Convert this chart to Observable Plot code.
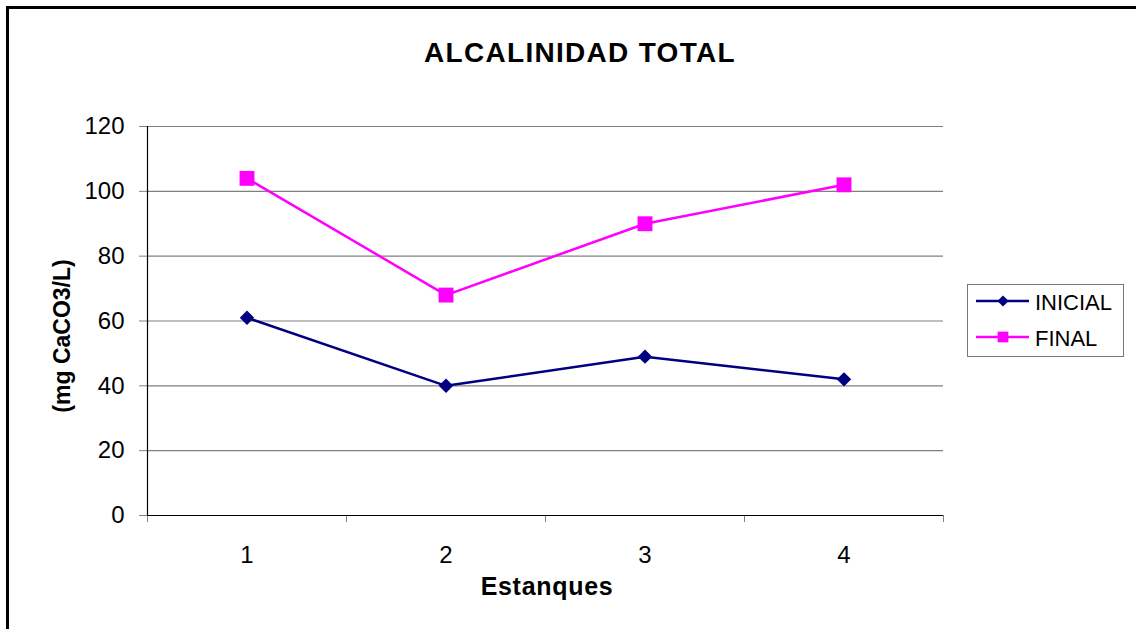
<!DOCTYPE html>
<html>
<head>
<meta charset="utf-8">
<script src="https://cdn.jsdelivr.net/npm/d3@7"></script>
<script src="https://cdn.jsdelivr.net/npm/@observablehq/plot@0.6"></script>
<style>
  html, body { margin: 0; padding: 0; background: #fff; overflow: hidden; }
  #wrap { position: relative; width: 1136px; height: 629px; }
  #chart svg { display: block; }
  #frame { position: absolute; left: 6px; top: 6px; width: 1200px; height: 700px;
           border-left: 3px solid #000; border-top: 3px solid #000; pointer-events: none; }
  #overlay { position: absolute; left: 0; top: 0; pointer-events: none; }
  #overlay text { font-family: "Liberation Sans", Arial, sans-serif; fill: #000; }
</style>
</head>
<body>
<div id="wrap">
  <div id="chart"></div>
  <svg id="overlay" width="1136" height="629"></svg>
  <div id="frame"></div>
</div>
<script>
// ---- data ----
const estanques = [1, 2, 3, 4];
const inicial = [61, 40, 49, 42];
const final = [104, 68, 90, 102];
const seriesNames = ["INICIAL", "FINAL"];
const seriesColors = ["#000080", "#FF00FF"];
const yTicks = [0, 20, 40, 60, 80, 100, 120];
const xBoundaries = [0.5, 1.5, 2.5, 3.5, 4.5];
const titleText = "ALCALINIDAD TOTAL";
const xLabel = "Estanques";
const yLabel = "(mg CaCO3/L)";

const rowsInicial = estanques.map((e, i) => ({estanque: e, value: inicial[i], serie: "INICIAL"}));
const rowsFinal = estanques.map((e, i) => ({estanque: e, value: final[i], serie: "FINAL"}));

const chart = Plot.plot({
  width: 1136,
  height: 629,
  marginLeft: 147,
  marginRight: 193,
  marginTop: 126,
  marginBottom: 114,
  style: {fontFamily: "'Liberation Sans', Arial, sans-serif", fontSize: "24px", color: "#000", background: "transparent"},
  x: {type: "linear", domain: [xBoundaries[0], xBoundaries[xBoundaries.length - 1]]},
  y: {domain: [yTicks[0], yTicks[yTicks.length - 1]]},
  color: {domain: seriesNames, range: seriesColors},
  marks: [
    Plot.gridY(yTicks.filter(v => v > 0), {stroke: "#808080", strokeOpacity: 1, strokeWidth: 1.2}),
    Plot.axisY({ticks: yTicks, tickSize: 8, tickPadding: 15, tickFormat: d => String(d), stroke: "#808080", strokeOpacity: 1, fill: "#000", label: null}),
    Plot.axisX({ticks: estanques, tickSize: 0, tickPadding: 30, tickFormat: d => String(d), fill: "#000", label: null}),
    Plot.axisX({ticks: xBoundaries, tickSize: 7, tickFormat: () => "", stroke: "#808080", strokeOpacity: 1, label: null}),
    Plot.ruleX([xBoundaries[0]], {stroke: "#000", strokeWidth: 1.2}),
    Plot.ruleY([yTicks[0]], {stroke: "#000", strokeWidth: 1.2}),
    Plot.line(rowsInicial, {x: "estanque", y: "value", stroke: "serie", strokeWidth: 2.5}),
    Plot.line(rowsFinal, {x: "estanque", y: "value", stroke: "serie", strokeWidth: 2.5}),
    Plot.dot(rowsInicial, {x: "estanque", y: "value", fill: "serie", symbol: "diamond2", r: 6.5, stroke: "none"}),
    Plot.dot(rowsFinal, {x: "estanque", y: "value", fill: "serie", symbol: "square", r: 8.4, stroke: "none"})
  ]
});
document.getElementById("chart").appendChild(chart);

// ---- title, axis labels, legend ----
const ov = d3.select("#overlay");
ov.append("text").attr("x", 580).attr("y", 62).attr("text-anchor", "middle")
  .attr("font-size", 28).attr("font-weight", "bold").attr("letter-spacing", 1.3).text(titleText);
ov.append("text").attr("x", 547).attr("y", 595).attr("text-anchor", "middle")
  .attr("font-size", 25).attr("font-weight", "bold").attr("letter-spacing", 0.7).text(xLabel);
ov.append("text").attr("transform", "translate(70,336) rotate(-90)").attr("text-anchor", "middle")
  .attr("font-size", 23).attr("font-weight", "bold").text(yLabel);

const lg = ov.append("g");
lg.append("rect").attr("x", 967.5).attr("y", 284.5).attr("width", 156).attr("height", 72)
  .attr("fill", "#fff").attr("stroke", "#777").attr("stroke-width", 1);
const legendSymbols = [d3.symbolDiamond2, d3.symbolSquare];
const legendSizes = [80, 115];
seriesNames.forEach((name, i) => {
  const cy = 301 + i * 36;
  lg.append("line").attr("x1", 976).attr("x2", 1029).attr("y1", cy).attr("y2", cy)
    .attr("stroke", seriesColors[i]).attr("stroke-width", 2.5);
  lg.append("path").attr("d", d3.symbol(legendSymbols[i], legendSizes[i])())
    .attr("transform", `translate(1003,${cy})`).attr("fill", seriesColors[i]);
  lg.append("text").attr("x", 1035).attr("y", cy + 9).attr("font-size", 22).text(name);
});
</script>
</body>
</html>
